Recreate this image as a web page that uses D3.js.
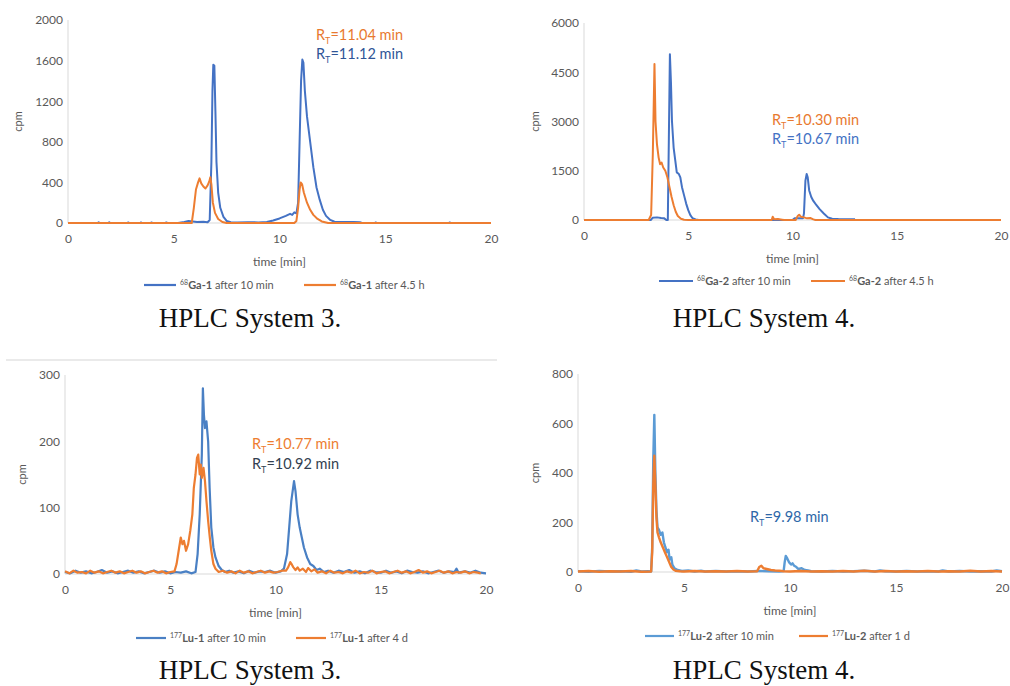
<!DOCTYPE html>
<html>
<head>
<meta charset="utf-8">
<script src="https://cdn.jsdelivr.net/npm/d3@7"></script>
<style>
  body { margin: 0; background: #fff; }
  svg { display: block; }
</style>
</head>
<body>
<svg id="chart" width="1010" height="686"></svg>
<script>
// [time (min), cpm]
const ga1Early = [[0,0],[1.4,0],[1.45,8],[1.5,0],[1.9,0],[1.95,8],[2.0,0],[2.8,0],[2.85,6],[2.9,0],[3.4,0],[3.45,6],[3.5,0],[3.9,0],[3.95,6],[4.0,0],[4.6,0],[4.65,5],[4.7,0],[5.2,0],[5.5,10],[5.7,20],[5.9,15],[6.1,10],[6.4,12],[6.6,8],[6.7,30],[6.78,600],[6.83,1300],[6.87,1560],[6.92,1550],[6.97,1100],[7.02,600],[7.1,300],[7.2,150],[7.35,60],[7.5,20],[7.7,8],[8.0,5],[8.5,8],[9.0,6],[9.4,10],[9.7,25],[10.0,45],[10.3,70],[10.5,90],[10.6,80],[10.7,105],[10.8,95],[10.88,200],[10.95,800],[11.02,1400],[11.08,1610],[11.13,1580],[11.2,1300],[11.3,1050],[11.45,800],[11.6,550],[11.75,350],[11.9,230],[12.05,130],[12.2,70],[12.4,30],[12.6,12],[13.0,10],[13.5,10],[13.8,8],[13.9,0],[14.5,0],[14.55,6],[14.6,0],[18.0,0],[18.05,6],[18.1,0],[20,0]];
const ga1Late = [[0,0],[5.85,0],[5.95,150],[6.05,330],[6.15,400],[6.22,440],[6.3,390],[6.4,360],[6.5,340],[6.6,370],[6.68,410],[6.73,450],[6.78,380],[6.85,200],[6.95,100],[7.1,40],[7.3,10],[7.5,0],[10.7,0],[10.8,20],[10.88,150],[10.95,330],[11.0,400],[11.07,380],[11.15,300],[11.3,200],[11.45,130],[11.6,80],[11.8,40],[12.0,15],[12.3,0],[20,0]];

const ga2Early = [[0,0],[3.2,0],[3.3,70],[3.5,80],[3.7,60],[3.85,50],[3.95,0],[4.02,0],[4.07,2500],[4.12,5050],[4.17,4200],[4.22,3000],[4.3,2200],[4.38,1800],[4.45,1450],[4.55,1400],[4.62,1300],[4.7,1000],[4.8,750],[4.9,500],[5.0,300],[5.1,150],[5.2,60],[5.35,15],[5.5,0],[10.0,0],[10.1,50],[10.5,50],[10.55,200],[10.62,1200],[10.68,1400],[10.73,1300],[10.8,900],[10.9,700],[11.0,580],[11.15,450],[11.3,330],[11.5,200],[11.7,80],[11.9,40],[12.2,30],[12.6,25],[13.0,25]];
const ga2Late = [[0,0],[3.1,0],[3.22,150],[3.3,2000],[3.38,4750],[3.43,3000],[3.5,2300],[3.58,1900],[3.65,1700],[3.72,1750],[3.8,1600],[3.9,1500],[4.0,1300],[4.1,1000],[4.2,700],[4.3,450],[4.4,250],[4.5,120],[4.65,40],[4.8,10],[5.0,0],[9.0,0],[9.05,100],[9.12,20],[9.3,30],[9.5,10],[9.6,0],[10.15,0],[10.25,120],[10.32,160],[10.4,100],[10.55,80],[10.7,50],[10.85,60],[11.0,20],[11.1,0],[20,0]];

const lu1Early = [[0,3],[0.25,1],[0.5,5],[0.75,2],[1.0,4],[1.25,1],[1.5,3],[1.75,6],[2.0,2],[2.25,4],[2.5,1],[2.75,3],[3.0,5],[3.25,2],[3.5,4],[3.75,1],[4.0,3],[4.25,5],[4.5,2],[4.75,4],[5.0,1],[5.25,3],[5.5,2],[5.75,4],[6.0,1],[6.2,3],[6.3,30],[6.4,90],[6.5,180],[6.55,280],[6.6,240],[6.65,220],[6.72,230],[6.8,200],[6.87,130],[6.95,70],[7.05,40],[7.15,25],[7.3,12],[7.45,6],[7.6,3],[7.8,5],[8.0,2],[8.25,4],[8.5,1],[8.75,5],[9.0,2],[9.25,4],[9.5,3],[9.75,5],[10.0,2],[10.25,4],[10.4,8],[10.55,30],[10.65,70],[10.75,110],[10.88,140],[10.95,125],[11.05,90],[11.15,70],[11.25,55],[11.35,40],[11.5,25],[11.65,15],[11.8,12],[11.95,6],[12.1,8],[12.3,3],[12.5,5],[12.75,2],[13.0,5],[13.25,3],[13.5,6],[13.75,2],[14.0,4],[14.25,1],[14.5,5],[14.75,3],[15.0,2],[15.25,5],[15.5,2],[15.75,4],[16.0,1],[16.25,5],[16.5,3],[16.75,2],[17.0,4],[17.25,1],[17.5,3],[17.75,5],[18.0,2],[18.25,4],[18.5,3],[18.6,8],[18.7,2],[19.0,4],[19.25,2],[19.5,5],[19.75,2],[20.0,1]];
const lu1Late = [[0,4],[0.2,1],[0.4,5],[0.6,2],[0.8,3],[1.0,1],[1.2,5],[1.4,2],[1.6,4],[1.8,1],[2.0,3],[2.2,5],[2.4,2],[2.6,4],[2.8,1],[3.0,3],[3.2,5],[3.4,2],[3.6,4],[3.8,1],[4.0,3],[4.2,5],[4.4,2],[4.6,4],[4.8,1],[5.0,3],[5.2,4],[5.3,15],[5.4,35],[5.5,55],[5.58,45],[5.65,50],[5.75,35],[5.85,45],[5.95,65],[6.05,90],[6.12,130],[6.2,150],[6.27,175],[6.33,180],[6.4,150],[6.45,165],[6.5,145],[6.58,160],[6.65,140],[6.72,110],[6.8,80],[6.88,55],[6.95,35],[7.05,15],[7.15,8],[7.3,3],[7.5,5],[7.7,2],[7.9,4],[8.1,1],[8.3,5],[8.5,2],[8.7,4],[8.9,1],[9.1,3],[9.3,5],[9.5,2],[9.7,4],[9.9,2],[10.1,3],[10.3,5],[10.5,5],[10.6,10],[10.7,18],[10.78,14],[10.85,10],[10.95,6],[11.05,10],[11.15,5],[11.3,8],[11.45,3],[11.55,9],[11.7,4],[11.85,7],[12.0,2],[12.2,4],[12.4,1],[12.6,5],[12.8,2],[13.0,3],[13.2,1],[13.4,4],[13.6,2],[13.8,5],[14.0,1],[14.2,3],[14.4,2],[14.6,5],[14.8,1],[15.0,3],[15.2,4],[15.4,1],[15.6,3],[15.8,5],[16.0,2],[16.2,4],[16.4,1],[16.6,3],[16.8,6],[17.0,2],[17.2,4],[17.4,1],[17.6,3],[17.8,5],[18.0,2],[18.2,4],[18.4,1],[18.6,3],[18.8,2],[19.0,4],[19.2,1],[19.4,3],[19.6,2],[19.75,1]];

const lu2Early = [[0,3],[0.5,1],[1.0,4],[1.5,2],[2.0,3],[2.5,1],[2.75,6],[3.0,2],[3.3,3],[3.45,2],[3.5,100],[3.55,450],[3.6,635],[3.65,400],[3.7,250],[3.75,180],[3.82,170],[3.9,150],[3.98,160],[4.05,120],[4.12,100],[4.2,80],[4.27,90],[4.32,50],[4.4,60],[4.45,30],[4.55,15],[4.7,8],[4.9,4],[5.2,6],[5.5,2],[5.8,5],[6.0,2],[6.5,4],[7.0,2],[7.5,3],[8.0,2],[8.5,4],[9.0,3],[9.5,2],[9.7,4],[9.75,40],[9.8,65],[9.87,55],[9.95,40],[10.05,30],[10.12,35],[10.2,25],[10.3,20],[10.4,12],[10.55,15],[10.7,8],[10.85,6],[11.0,3],[11.5,2],[12.0,4],[12.5,2],[13.0,3],[13.5,5],[14.0,2],[14.25,6],[14.5,3],[15.0,2],[15.5,4],[16.0,2],[16.5,3],[17.0,2],[17.2,6],[17.5,2],[18.0,4],[18.5,2],[19.0,3],[19.5,2],[19.75,6],[20.0,3]];
const lu2Late = [[0,2],[0.5,4],[1.0,1],[1.5,3],[2.0,2],[2.5,4],[3.0,1],[3.45,2],[3.5,80],[3.55,350],[3.6,470],[3.65,350],[3.7,220],[3.75,160],[3.82,140],[3.9,120],[4.0,100],[4.1,80],[4.2,60],[4.3,40],[4.4,20],[4.5,10],[4.6,5],[4.8,3],[5.0,2],[5.5,4],[6.0,2],[6.5,3],[7.0,2],[7.5,4],[8.0,2],[8.45,3],[8.55,20],[8.65,25],[8.75,15],[8.9,12],[9.1,8],[9.3,6],[9.5,5],[9.7,3],[10.0,2],[10.5,4],[11.0,2],[11.5,3],[12.0,2],[12.5,4],[13.0,2],[13.5,5],[14.0,2],[14.5,4],[15.0,2],[15.5,3],[16.0,2],[16.5,4],[17.0,2],[17.5,3],[18.0,2],[18.5,5],[19.0,2],[19.5,4],[20.0,2]];

const xTicks = [0, 5, 10, 15, 20];
const yTicks1 = [0, 400, 800, 1200, 1600, 2000];
const yTicks2 = [0, 1500, 3000, 4500, 6000];
const yTicks3 = [0, 100, 200, 300];
const yTicks4 = [0, 200, 400, 600, 800];

const legend1 = [["68", "Ga-1", " after 10 min"], ["68", "Ga-1", " after 4.5 h"]];
const legend2 = [["68", "Ga-2", " after 10 min"], ["68", "Ga-2", " after 4.5 h"]];
const legend3 = [["177", "Lu-1", " after 10 min"], ["177", "Lu-1", " after 4 d"]];
const legend4 = [["177", "Lu-2", " after 10 min"], ["177", "Lu-2", " after 1 d"]];

const notes1 = ["=11.04 min", "=11.12 min"];
const notes2 = ["=10.30 min", "=10.67 min"];
const notes3 = ["=10.77 min", "=10.92 min"];
const notes4 = ["=9.98 min"];

const captions = ["HPLC System 3.", "HPLC System 4.", "HPLC System 3.", "HPLC System 4."];

const ORANGE = "#ed7d31";
const panels = [
  { l: 68, r: 491, t: 20, b: 223, ticks: yTicks1, series: [ga1Early, ga1Late], colors: ["#4472c4", ORANGE], lw: 2,
    legend: legend1, legX: [144, 304], legW: 32, legY: 285, titleY: 262, cpmX: 18,
    notes: notes1, noteColors: ["#e8792f", "#2f5597"], noteX: 316, noteY: [40, 59], caption: captions[0], capX: 250, capY: 327 },
  { l: 584, r: 1001, t: 23, b: 220, ticks: yTicks2, series: [ga2Early, ga2Late], colors: ["#4472c4", ORANGE], lw: 2,
    legend: legend2, legX: [659, 811], legW: 34, legY: 281, titleY: 259, cpmX: 535,
    notes: notes2, noteColors: ["#e8792f", "#4472c4"], noteX: 772, noteY: [125, 144], caption: captions[1], capX: 764, capY: 327 },
  { l: 65, r: 486, t: 375, b: 574, ticks: yTicks3, series: [lu1Early, lu1Late], colors: ["#4a80c4", ORANGE], lw: 2.2,
    legend: legend3, legX: [136, 296], legW: 30, legY: 638, titleY: 613, cpmX: 22,
    notes: notes3, noteColors: ["#ed7d31", "#333f50"], noteX: 252, noteY: [449, 469], caption: captions[2], capX: 250, capY: 679 },
  { l: 578, r: 1002, t: 374, b: 572, ticks: yTicks4, series: [lu2Early, lu2Late], colors: ["#5b9bd5", ORANGE], lw: 2.4,
    legend: legend4, legX: [645, 799], legW: 29, legY: 636, titleY: 611, cpmX: 535,
    notes: notes4, noteColors: ["#2e67a8"], noteX: 750, noteY: [522], caption: captions[3], capX: 764, capY: 679 }
];

const svg = d3.select("#chart");
const sans = "Lato, 'Open Sans', sans-serif";
const grey = "#595959";

// thin rule between the two rows
svg.append("line").attr("x1", 6).attr("x2", 497).attr("y1", 360).attr("y2", 360)
   .attr("stroke", "#e3e3e3").attr("stroke-width", 1.5);

panels.forEach(p => {
  const g = svg.append("g");
  const x = d3.scaleLinear().domain([0, 20]).range([p.l, p.r]);
  const y = d3.scaleLinear().domain([0, d3.max(p.ticks)]).range([p.b, p.t]);

  // axis lines
  g.append("line").attr("x1", p.l).attr("x2", p.l).attr("y1", p.t).attr("y2", p.b).attr("stroke", "#d9d9d9");
  g.append("line").attr("x1", p.l).attr("x2", p.r).attr("y1", p.b).attr("y2", p.b).attr("stroke", "#d9d9d9");

  const yAxis = g.append("g").attr("transform", `translate(${p.l - 5},0)`)
    .call(d3.axisLeft(y).tickValues(p.ticks).tickFormat(d3.format("d")).tickSize(0).tickPadding(0));
  yAxis.select(".domain").remove();
  yAxis.selectAll("text").attr("font-family", sans).attr("font-size", 12).attr("fill", grey);

  const xAxis = g.append("g").attr("transform", `translate(0,${p.b + 11})`)
    .call(d3.axisBottom(x).tickValues(xTicks).tickFormat(d3.format("d")).tickSize(0).tickPadding(0));
  xAxis.select(".domain").remove();
  xAxis.selectAll("text").attr("font-family", sans).attr("font-size", 12).attr("fill", grey);

  g.append("text").attr("x", (p.l + p.r) / 2).attr("y", p.titleY + 4).attr("text-anchor", "middle")
    .attr("font-family", sans).attr("font-size", 12).attr("fill", grey).text("time [min]");
  g.append("text").attr("transform", `translate(${p.cpmX + 4},${(p.t + p.b) / 2}) rotate(-90)`)
    .attr("text-anchor", "middle").attr("font-family", sans).attr("font-size", 11).attr("fill", grey).text("cpm");

  const line = d3.line().x(d => x(d[0])).y(d => y(d[1]));
  p.series.forEach((s, i) => {
    g.append("path").datum(s).attr("d", line).attr("fill", "none")
      .attr("stroke", p.colors[i]).attr("stroke-width", p.lw).attr("stroke-linejoin", "round");
  });

  // legend
  p.legend.forEach((lg, i) => {
    const lx = p.legX[i];
    g.append("line").attr("x1", lx).attr("x2", lx + p.legW).attr("y1", p.legY).attr("y2", p.legY)
      .attr("stroke", p.colors[i]).attr("stroke-width", 2.2);
    const t = g.append("text").attr("x", lx + p.legW + 4).attr("y", p.legY + 4)
      .attr("font-family", sans).attr("font-size", 11).attr("fill", grey);
    t.append("tspan").attr("font-size", 7).attr("dy", -4).text(lg[0]);
    t.append("tspan").attr("font-weight", "bold").attr("dy", 4).text(lg[1]);
    t.append("tspan").text(lg[2]);
  });

  // retention time notes
  p.notes.forEach((n, i) => {
    const t = g.append("text").attr("x", p.noteX).attr("y", p.noteY[i])
      .attr("font-family", sans).attr("font-size", 14.5).attr("fill", p.noteColors[i]);
    t.append("tspan").text("R");
    t.append("tspan").attr("font-size", 9).attr("dy", 4).text("T");
    t.append("tspan").attr("dy", -4).text(n);
  });

  svg.append("text").attr("x", p.capX).attr("y", p.capY).attr("text-anchor", "middle")
    .attr("font-family", "'Liberation Serif', serif").attr("font-size", 27).attr("fill", "#111").text(p.caption);
});
</script>
</body>
</html>
